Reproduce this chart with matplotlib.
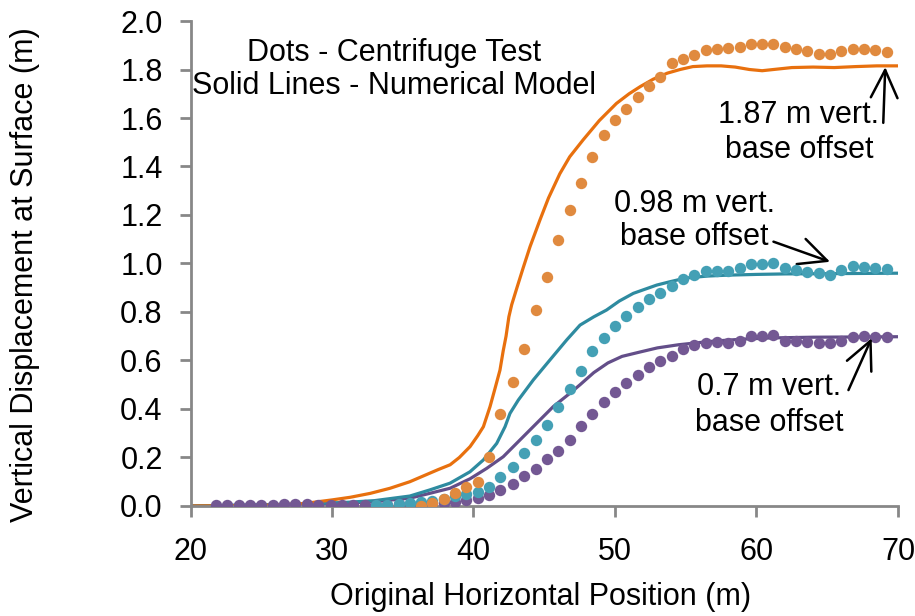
import matplotlib
matplotlib.use("Agg")
import matplotlib.pyplot as plt

plt.rcParams['font.family'] = ['Liberation Sans', 'DejaVu Sans']

# Centrifuge test measurement positions (m)
x_dots = [21.8, 22.6, 23.4, 24.2, 25.0, 25.8, 26.6, 27.4, 28.2, 29.0,
          29.9, 30.7, 31.5, 32.3, 33.1, 33.9, 34.7, 35.5, 36.3, 37.1,
          37.9, 38.7, 39.5, 40.3, 41.1, 41.9, 42.8, 43.6, 44.4, 45.2,
          46.0, 46.8, 47.6, 48.4, 49.2, 50.0, 50.8, 51.6, 52.4, 53.2,
          54.0, 54.8, 55.6, 56.4, 57.2, 58.0, 58.8, 59.6, 60.4, 61.2,
          62.0, 62.8, 63.6, 64.4, 65.2, 66.0, 66.8, 67.6, 68.4, 69.2]

# 0.7 m offset - centrifuge (all 60 positions)
purple_dots = [0.003, 0.006, 0.006, 0.004, 0.003, 0.005, 0.008, 0.010, 0.008, 0.006,
               0.005, 0.005, 0.005, 0.005, 0.005, 0.006, 0.007, 0.008, 0.010, 0.012,
               0.014, 0.018, 0.025, 0.034, 0.045, 0.066, 0.090, 0.124, 0.151, 0.193,
               0.227, 0.272, 0.330, 0.378, 0.430, 0.472, 0.507, 0.540, 0.573, 0.597,
               0.620, 0.648, 0.664, 0.671, 0.678, 0.671, 0.682, 0.701, 0.701, 0.705,
               0.682, 0.682, 0.678, 0.671, 0.671, 0.682, 0.695, 0.701, 0.698, 0.698]

# 0.98 m offset - centrifuge (from 33.1 m)
teal_dots = [0.004, 0.004, 0.008, 0.011, 0.016, 0.022, 0.030, 0.042, 0.050, 0.057,
             0.078, 0.118, 0.160, 0.220, 0.272, 0.332, 0.408, 0.482, 0.558, 0.638,
             0.692, 0.743, 0.782, 0.820, 0.853, 0.880, 0.908, 0.935, 0.953, 0.968,
             0.967, 0.969, 0.980, 0.998, 0.999, 1.000, 0.980, 0.973, 0.965, 0.960,
             0.953, 0.975, 0.988, 0.986, 0.982, 0.977]

# 1.87 m offset - centrifuge (from 36.3 m)
orange_dots = [0.000, 0.013, 0.030, 0.052, 0.080, 0.100, 0.200, 0.380, 0.510, 0.647,
               0.810, 0.945, 1.097, 1.220, 1.330, 1.440, 1.530, 1.590, 1.637, 1.687,
               1.733, 1.768, 1.825, 1.843, 1.861, 1.880, 1.884, 1.888, 1.893, 1.905,
               1.906, 1.905, 1.892, 1.886, 1.877, 1.865, 1.863, 1.875, 1.885, 1.885,
               1.881, 1.873]

# Numerical model curves
orange_line_x = [20, 25, 28, 30, 31.3, 32.7, 34.1, 35.5, 36.9, 37.5, 38.35, 39.0, 39.76,
                 40.3, 40.7, 41.17, 41.5, 41.87, 42.1, 42.3, 42.5, 42.7, 43.07, 43.5, 44.0,
                 44.7, 45.3, 46.1, 46.8, 47.75, 48.9, 50.1, 51.0, 51.8, 52.7, 53.7, 54.6,
                 55.5, 56.5, 57.5, 58.5, 59.5, 60.4, 61.2, 62.5, 64.0, 65.5, 67.0, 68.5, 70]
orange_line_y = [0.0, 0.002, 0.010, 0.025, 0.036, 0.052, 0.073, 0.100, 0.135, 0.150, 0.170,
                 0.200, 0.245, 0.290, 0.327, 0.410, 0.480, 0.560, 0.640, 0.700, 0.780, 0.830,
                 0.900, 0.980, 1.070, 1.180, 1.270, 1.370, 1.440, 1.510, 1.590, 1.660, 1.700,
                 1.730, 1.760, 1.785, 1.800, 1.812, 1.815, 1.815, 1.810, 1.800, 1.795, 1.800,
                 1.808, 1.810, 1.808, 1.812, 1.815, 1.815]

teal_line_x = [20, 28, 31, 33, 35.5, 36.9, 38.34, 39.75, 40.7, 41.64, 42.23, 42.58, 43.17,
               44.23, 45.4, 46.59, 47.53, 48.5, 49.4, 50.3, 51.3, 52.95, 53.9, 55.0, 56.5,
               58.0, 60.0, 62.0, 65.0, 70]
teal_line_y = [0.0, 0.008, 0.015, 0.022, 0.041, 0.066, 0.094, 0.141, 0.190, 0.258, 0.327,
               0.382, 0.437, 0.520, 0.602, 0.685, 0.746, 0.780, 0.808, 0.845, 0.877, 0.911,
               0.925, 0.940, 0.948, 0.952, 0.955, 0.957, 0.958, 0.960]

purple_line_x = [20, 28, 31, 33, 35.5, 36.9, 38.34, 39.75, 40.93, 42.1, 43.28, 44.46, 45.64,
                 46.82, 47.53, 48.5, 49.5, 50.5, 51.77, 53.0, 54.5, 55.8, 57.0, 59.0, 61.0,
                 64.0, 67.0, 70]
purple_line_y = [0.0, 0.006, 0.012, 0.018, 0.032, 0.052, 0.073, 0.112, 0.155, 0.203, 0.272,
                 0.341, 0.410, 0.465, 0.500, 0.550, 0.590, 0.617, 0.635, 0.652, 0.665, 0.673,
                 0.680, 0.688, 0.693, 0.696, 0.697, 0.698]

x_ticks = [20, 30, 40, 50, 60, 70]
y_ticks = [0.0, 0.2, 0.4, 0.6, 0.8, 1.0, 1.2, 1.4, 1.6, 1.8, 2.0]

c_orange_line, c_orange_dot = '#E8700E', '#E08A3F'
c_teal_line, c_teal_dot = '#2E8BA0', '#44A0B5'
c_purple_line, c_purple_dot = '#634E89', '#735893'

fs = 22

fig = plt.figure(figsize=(9.15, 6.16), dpi=100)
ax = fig.add_axes([0.2082, 0.1786, 0.7732, 0.7873])

lw = 2.3
ax.plot(purple_line_x, purple_line_y, color=c_purple_line, lw=lw, zorder=2)
ax.plot(teal_line_x, teal_line_y, color=c_teal_line, lw=lw, zorder=2)
ax.plot(orange_line_x, orange_line_y, color=c_orange_line, lw=lw, zorder=2)

ms = 8.2
ax.plot(x_dots, purple_dots, 'o', color=c_purple_dot, ms=ms, mew=0, zorder=3)
ax.plot(x_dots[14:], teal_dots, 'o', color=c_teal_dot, ms=ms, mew=0, zorder=4)
ax.plot(x_dots[18:], orange_dots, 'o', color=c_orange_dot, ms=ms, mew=0, zorder=5)

ax.set_xlim(20, 70)
ax.set_ylim(0, 2.0)
ax.set_xticks(x_ticks)
ax.set_yticks(y_ticks)
ax.set_yticklabels([f"{v:.1f}" for v in y_ticks])
for s in ['top', 'right']:
    ax.spines[s].set_visible(False)
for s in ['left', 'bottom']:
    ax.spines[s].set_color('#878787')
    ax.spines[s].set_linewidth(2)
ax.tick_params(axis='both', colors='#878787', width=2, length=8, direction='out',
               labelsize=fs, labelcolor='black')
ax.tick_params(axis='y', pad=12)
ax.tick_params(axis='x', pad=14)

fig.text(25 / 915, 1 - 275 / 616, 'Vertical Displacement at Surface (m)', rotation=90,
         ha='center', va='center', fontsize=fs)
fig.text(541 / 915, 1 - 597 / 616, 'Original Horizontal Position (m)',
         ha='center', va='center', fontsize=fs)

ax.text(34.4, 1.87, 'Dots - Centrifuge Test', ha='center', va='center', fontsize=fs)
ax.text(34.4, 1.73, 'Solid Lines - Numerical Model', ha='center', va='center', fontsize=fs)
ax.text(63.0, 1.614, '1.87 m vert.', ha='center', va='center', fontsize=fs)
ax.text(63.0, 1.47, 'base offset', ha='center', va='center', fontsize=fs)
ax.text(55.6, 1.247, '0.98 m vert.', ha='center', va='center', fontsize=fs)
ax.text(55.6, 1.109, 'base offset', ha='center', va='center', fontsize=fs)
ax.text(60.9, 0.49, '0.7 m vert.', ha='center', va='center', fontsize=fs)
ax.text(60.9, 0.343, 'base offset', ha='center', va='center', fontsize=fs)

arrow = dict(arrowstyle='->,head_length=1.0,head_width=0.48', lw=1.8, color='black',
             shrinkA=0, shrinkB=0, mutation_scale=20)
ax.annotate('', xy=(69.1, 1.81), xytext=(68.96, 1.58), arrowprops=arrow)
ax.annotate('', xy=(65.2, 1.007), xytext=(61.2, 1.09), arrowprops=arrow)
ax.annotate('', xy=(68.14, 0.692), xytext=(66.5, 0.478), arrowprops=arrow)

fig.savefig('out.png', dpi=100)
